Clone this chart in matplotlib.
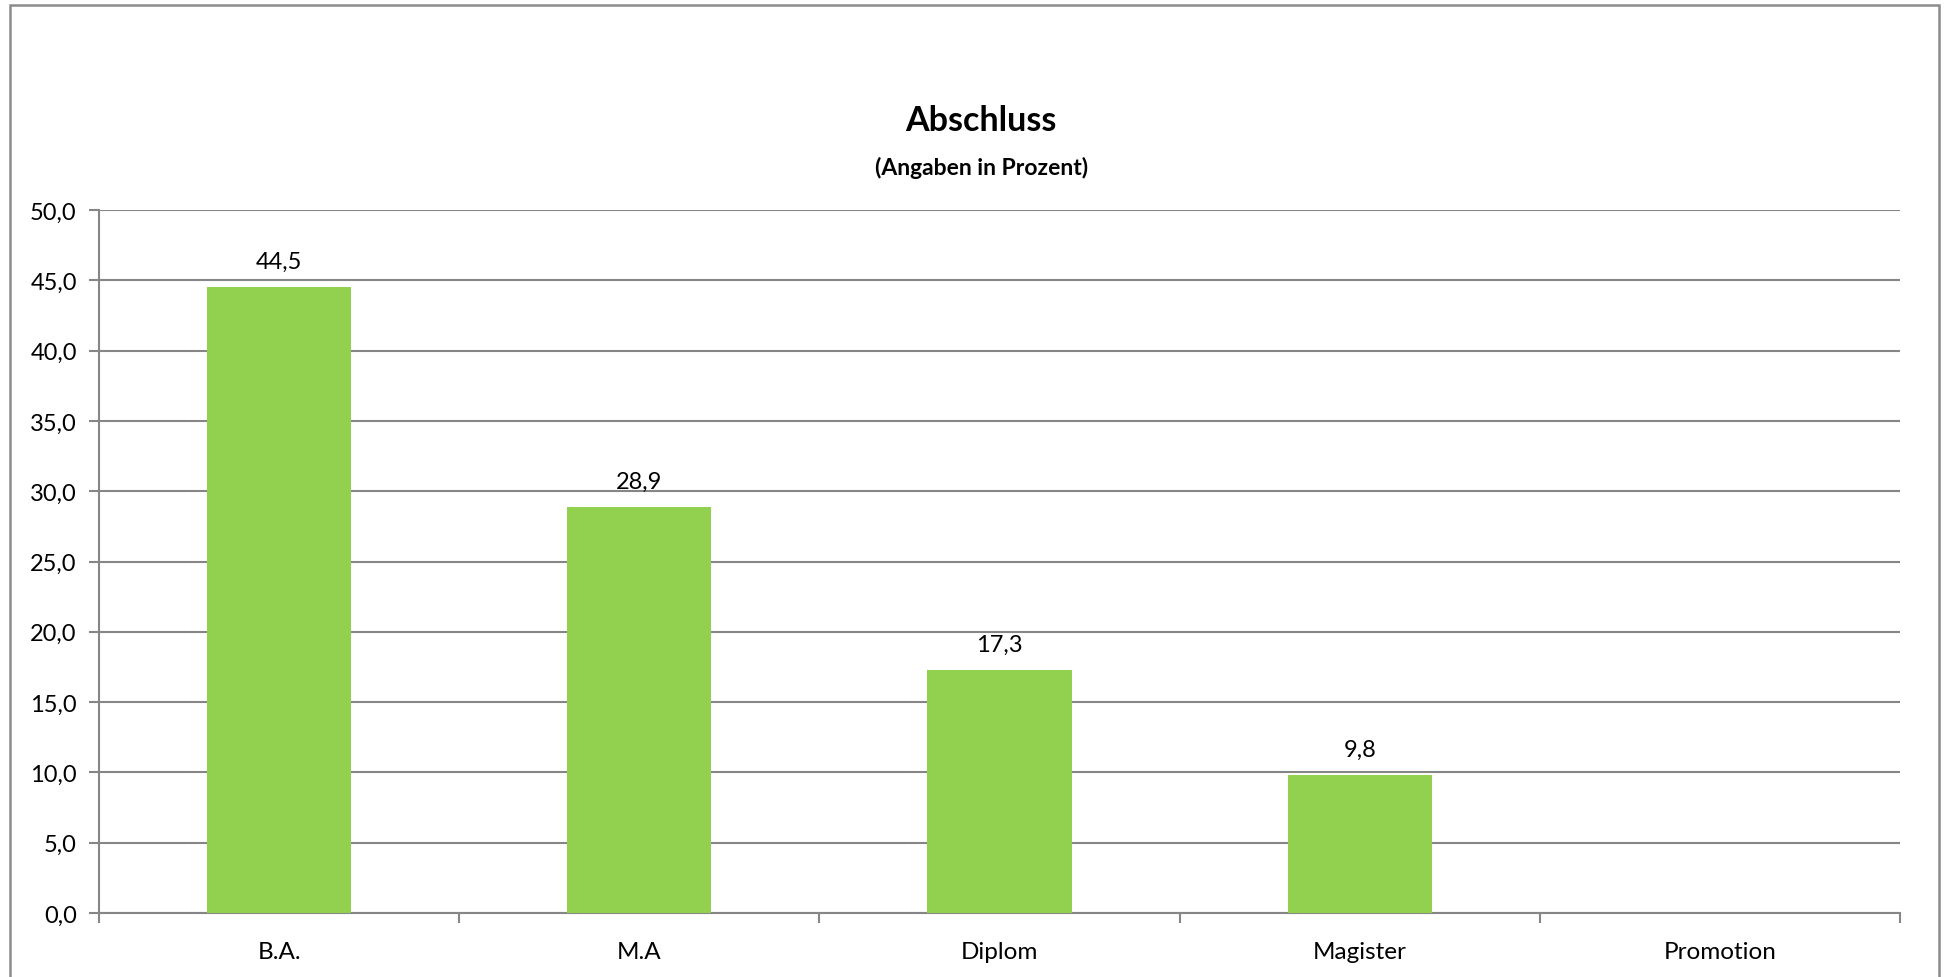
import matplotlib
matplotlib.use("Agg")
import matplotlib.pyplot as plt
from matplotlib.patches import Rectangle
import numpy as np

plt.rcParams['font.family'] = ['Lato', 'DejaVu Sans']

categories = ["B.A.", "M.A", "Diplom", "Magister", "Promotion"]
values = [44.5, 28.9, 17.3, 9.8, 0.0]
yticks = [0, 5, 10, 15, 20, 25, 30, 35, 40, 45, 50]
title = "Abschluss"
subtitle = "(Angaben in Prozent)"

W, H = 1948, 978
fig = plt.figure(figsize=(W / 100, H / 100), dpi=100)
ax = fig.add_axes([99 / W, 1 - 914 / H, (1900 - 99) / W, (914 - 211) / H])

grid_c = "#868686"
x = np.arange(len(categories))
ax.bar(x, values, width=0.4, color="#92D050", zorder=3)

for xi, v in zip(x, values):
    if v > 0:
        ax.annotate(f"{v:.1f}".replace(".", ","), (xi, v), xytext=(0, 11),
                    textcoords="offset points", ha="center", va="bottom",
                    fontsize=17, color="#000000")

ax.set_xlim(-0.5, len(categories) - 0.5)
ax.set_ylim(0, 50)
ax.set_yticks(yticks)
ax.set_yticklabels([f"{t:.1f}".replace(".", ",") for t in yticks], fontsize=17)
ax.yaxis.grid(True, color=grid_c, linewidth=1.5, zorder=0)
ax.set_axisbelow(True)

ax.set_xticks(np.arange(-0.5, len(categories)))
ax.set_xticklabels([])
ax.set_xticks(x, minor=True)
ax.set_xticklabels(categories, minor=True, fontsize=17.5)
ax.tick_params(axis="x", which="minor", length=0, pad=20)
ax.tick_params(axis="x", which="major", length=7, width=1.5, color=grid_c, direction="out")
ax.tick_params(axis="y", length=7, width=1.5, color=grid_c, direction="out", pad=9)

for s in ["top", "right"]:
    ax.spines[s].set_visible(False)
for s in ["left", "bottom"]:
    ax.spines[s].set_color(grid_c)
    ax.spines[s].set_linewidth(1.5)

fig.text(0.5037, 1 - 121 / H, title, ha="center", va="center", fontsize=24.5, fontweight="bold")
fig.text(0.5037, 1 - 168 / H, subtitle, ha="center", va="center", fontsize=16.5, fontweight="bold")

fig.add_artist(Rectangle((10 / W, -0.1), (1939 - 10) / W, 1.1 - 6 / H,
                         transform=fig.transFigure, fill=False,
                         edgecolor="#8c8c8c", linewidth=1.8))

fig.savefig("out.png", dpi=100, facecolor="white")
